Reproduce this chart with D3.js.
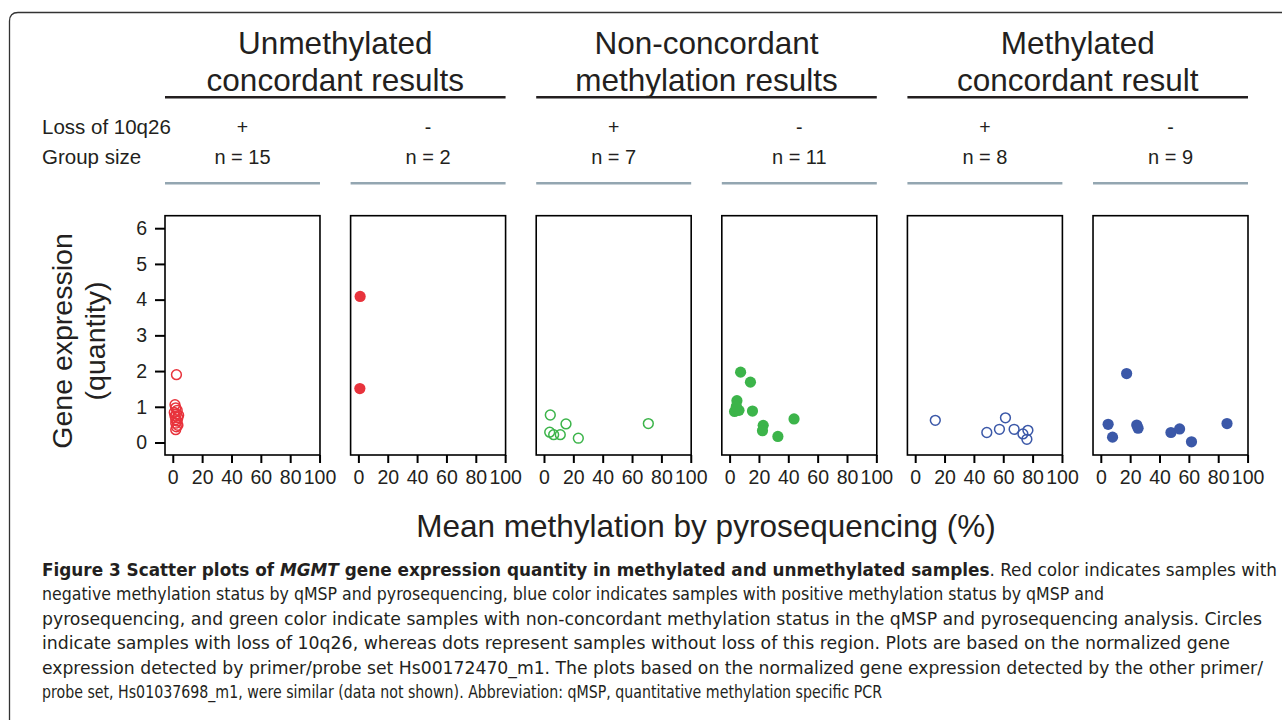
<!DOCTYPE html>
<html>
<head>
<meta charset="utf-8">
<script src="https://cdn.jsdelivr.net/npm/d3@7"></script>
<style>
  html, body { margin: 0; padding: 0; background: #fff; }
  svg { display: block; }
</style>
</head>
<body>
<svg id="chart" width="1282" height="720"></svg>
<script>
// ---------------- DATA ----------------
const groupTitles = [
  ["Unmethylated", "concordant results"],
  ["Non-concordant", "methylation results"],
  ["Methylated", "concordant result"]
];
const rowLabels = ["Loss of 10q26", "Group size"];
const lossLabels = ["+", "-", "+", "-", "+", "-"];
const groupSizes = ["n = 15", "n = 2", "n = 7", "n = 11", "n = 8", "n = 9"];
const xTicks = [0, 20, 40, 60, 80, 100];
const yTicks = [0, 1, 2, 3, 4, 5, 6];
const yTitle = ["Gene expression", "(quantity)"];
const xTitle = "Mean methylation by pyrosequencing (%)";

// panel 1: unmethylated concordant, loss of 10q26 (open red)
const unmethLossX = [2.5, 1.5, 2.0, 3.0, 1.0, 2.5, 4.0, 1.5, 3.5, 2.0, 3.0, 2.0, 3.5, 2.5, 2.0];
const unmethLossY = [1.90, 1.06, 0.97, 0.90, 0.84, 0.80, 0.76, 0.74, 0.70, 0.64, 0.60, 0.54, 0.48, 0.44, 0.36];
// panel 2: unmethylated concordant, no loss (filled red)
const unmethNoLossX = [1.2, 1.0];
const unmethNoLossY = [4.09, 1.51];
// panel 3: non-concordant, loss (open green)
const nonconcLossX = [4.3, 15.0, 3.9, 6.6, 11.1, 23.4, 71.1];
const nonconcLossY = [0.77, 0.52, 0.29, 0.22, 0.22, 0.12, 0.53];
// panel 4: non-concordant, no loss (filled green)
const nonconcNoLossX = [7.5, 14.2, 5.0, 3.4, 6.4, 4.6, 15.6, 22.9, 22.4, 32.9, 43.9];
const nonconcNoLossY = [1.97, 1.69, 1.17, 0.87, 0.90, 1.01, 0.88, 0.48, 0.33, 0.17, 0.66];
// panel 5: methylated concordant, loss (open blue)
const methLossX = [13.7, 48.8, 57.4, 61.5, 67.4, 73.4, 76.8, 76.1];
const methLossY = [0.62, 0.28, 0.37, 0.69, 0.37, 0.24, 0.34, 0.09];
// panel 6: methylated concordant, no loss (filled blue)
const methNoLossX = [17.6, 5.0, 8.0, 24.5, 25.4, 47.8, 53.7, 61.8, 86.0];
const methNoLossY = [1.93, 0.51, 0.15, 0.49, 0.40, 0.28, 0.38, 0.02, 0.53];

const captionLines = [
  [["Figure 3 Scatter plots of ", "b"], ["MGMT", "bi"], [" gene expression quantity in methylated and unmethylated samples", "b"], [". Red color indicates samples with", "n"]],
  [["negative methylation status by qMSP and pyrosequencing, blue color indicates samples with positive methylation status by qMSP and", "n"]],
  [["pyrosequencing, and green color indicate samples with non-concordant methylation status in the qMSP and pyrosequencing analysis. Circles", "n"]],
  [["indicate samples with loss of 10q26, whereas dots represent samples without loss of this region. Plots are based on the normalized gene", "n"]],
  [["expression detected by primer/probe set Hs00172470_m1. The plots based on the normalized gene expression detected by the other primer/", "n"]],
  [["probe set, Hs01037698_m1, were similar (data not shown). Abbreviation: qMSP, quantitative methylation specific PCR", "n"]]
];
const captionEnds = [1277, 1104, 1262, 1230, 1263, 882];

// ---------------- STYLE ----------------
const RED = "#e8333c", GREEN = "#3cb44a", BLUE = "#3b58a8";
const panels = [
  {x: unmethLossX, y: unmethLossY, color: RED, open: true},
  {x: unmethNoLossX, y: unmethNoLossY, color: RED, open: false},
  {x: nonconcLossX, y: nonconcLossY, color: GREEN, open: true},
  {x: nonconcNoLossX, y: nonconcNoLossY, color: GREEN, open: false},
  {x: methLossX, y: methLossY, color: BLUE, open: true},
  {x: methNoLossX, y: methNoLossY, color: BLUE, open: false}
];

const FONT = "'Liberation Sans', Arial, Helvetica, sans-serif";
const TXT = "#231f20";
const svg = d3.select("#chart");

// frame
svg.append("path")
  .attr("d", "M9.5,722 V21 Q9.5,12.5 18,12.5 H1290")
  .attr("fill", "none").attr("stroke", "#333").attr("stroke-width", 1.3);

// panel positions
const band = d3.scaleBand().domain(d3.range(6)).range([165, 1248]).paddingInner(0.165).paddingOuter(0);
const yTop = 215.7, yBot = 455;
const y = d3.scaleLinear().domain([-0.35, 6.35]).range([yBot, yTop]);

// group titles with black lines
groupTitles.forEach((lines, g) => {
  const x0 = band(g * 2), x1 = band(g * 2 + 1) + band.bandwidth();
  const cx = (x0 + x1) / 2;
  const t = svg.append("text").attr("x", cx).attr("text-anchor", "middle")
    .attr("font-family", FONT).attr("font-size", 31.5).attr("fill", TXT);
  t.append("tspan").attr("x", cx).attr("y", 53.5).text(lines[0]);
  t.append("tspan").attr("x", cx).attr("y", 90.5).text(lines[1]);
  svg.append("line").attr("x1", x0).attr("x2", x1).attr("y1", 97.3).attr("y2", 97.3)
    .attr("stroke", "#231f20").attr("stroke-width", 2.6);
});

// row labels
svg.append("text").attr("x", 42).attr("y", 133.5).attr("font-family", FONT).attr("font-size", 20.5).attr("fill", TXT).text(rowLabels[0]);
svg.append("text").attr("x", 42).attr("y", 163.5).attr("font-family", FONT).attr("font-size", 20.5).attr("fill", TXT).text(rowLabels[1]);

panels.forEach((p, i) => {
  const left = band(i), w = band.bandwidth();
  const cx = left + w / 2;
  svg.append("text").attr("x", cx).attr("y", 133.5).attr("text-anchor", "middle")
    .attr("font-family", FONT).attr("font-size", 19.5).attr("fill", TXT).text(lossLabels[i]);
  svg.append("text").attr("x", cx).attr("y", 164).attr("text-anchor", "middle")
    .attr("font-family", FONT).attr("font-size", 20).attr("fill", TXT).text(groupSizes[i]);
  svg.append("line").attr("x1", left).attr("x2", left + w).attr("y1", 183.3).attr("y2", 183.3)
    .attr("stroke", "#93a6b1").attr("stroke-width", 2.6);

  const x = d3.scaleLinear().domain([-5.3, 100.3]).range([left, left + w]);
  const g = svg.append("g");

  // x axis
  const xa = g.append("g").attr("transform", `translate(0,${yBot})`)
    .call(d3.axisBottom(x).tickValues(xTicks).tickFormat(d3.format("d")).tickSize(8).tickSizeOuter(0).tickPadding(7));
  xa.select(".domain").remove();
  xa.selectAll("line").attr("stroke", "#000").attr("stroke-width", 2);
  xa.selectAll("text").attr("font-family", FONT).attr("font-size", 19.5).attr("fill", TXT);

  if (i === 0) {
    const ya = g.append("g").attr("transform", `translate(${left},0)`)
      .call(d3.axisLeft(y).tickValues(yTicks).tickFormat(d3.format("d")).tickSize(10).tickSizeOuter(0).tickPadding(8));
    ya.select(".domain").remove();
    ya.selectAll("line").attr("stroke", "#000").attr("stroke-width", 2);
    ya.selectAll("text").attr("font-family", FONT).attr("font-size", 19.5).attr("fill", TXT);
  }

  // box
  g.append("rect").attr("x", left).attr("y", yTop).attr("width", w).attr("height", yBot - yTop)
    .attr("fill", "none").attr("stroke", "#000").attr("stroke-width", 1.6);

  // points
  g.selectAll("circle.pt").data(p.x.map((v, k) => [v, p.y[k]])).join("circle")
    .attr("class", "pt")
    .attr("cx", d => x(d[0])).attr("cy", d => y(d[1]))
    .attr("r", p.open ? 4.9 : 5.6)
    .attr("fill", p.open ? "none" : p.color)
    .attr("stroke", p.open ? p.color : "none")
    .attr("stroke-width", p.open ? 1.5 : 0);
});

// axis titles
const yt = svg.append("text").attr("transform", "translate(0,341) rotate(-90)")
  .attr("text-anchor", "middle").attr("font-family", FONT).attr("font-size", 28.5).attr("fill", TXT);
yt.append("tspan").attr("x", 0).attr("y", 72).text(yTitle[0]);
yt.append("tspan").attr("x", 0).attr("y", 105).text(yTitle[1]);

svg.append("text").attr("x", 706).attr("y", 537).attr("text-anchor", "middle")
  .attr("font-family", FONT).attr("font-size", 31.5).attr("fill", TXT).text(xTitle);

// caption
const CAPFONT = "'Liberation Sans Narrow', 'DejaVu Sans Condensed', 'Open Sans', sans-serif";
captionLines.forEach((parts, li) => {
  const t = svg.append("text").attr("x", 42).attr("y", 576 + li * 24.4)
    .attr("font-family", CAPFONT).attr("font-size", 17).attr("fill", TXT)
    .attr("textLength", captionEnds[li] - 42).attr("lengthAdjust", "spacingAndGlyphs");
  parts.forEach(([s, st]) => {
    const ts = t.append("tspan").text(s);
    if (st === "b" || st === "bi") ts.attr("font-weight", "bold");
    if (st === "bi") ts.attr("font-style", "italic");
  });
});
</script>
</body>
</html>
